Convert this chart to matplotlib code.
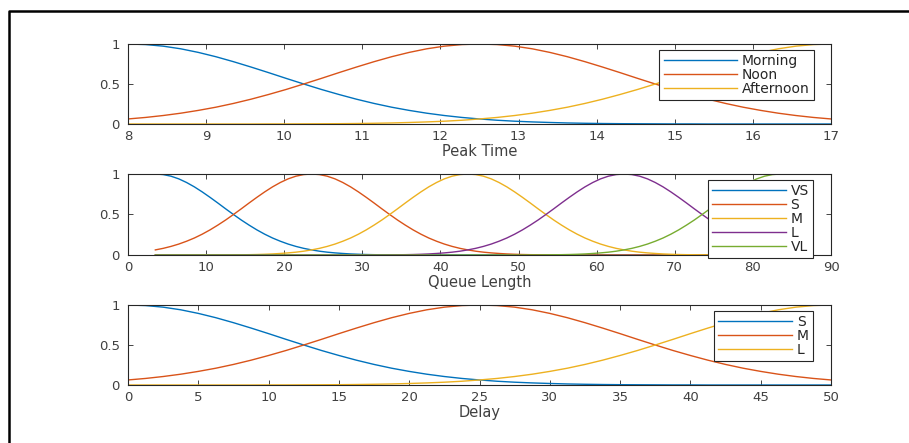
import matplotlib
matplotlib.use("Agg")
import matplotlib.pyplot as plt
from matplotlib.lines import Line2D


# ---- Peak Time ----
peak_x = [8.0, 8.225, 8.45, 8.675, 8.9, 9.125, 9.35, 9.575, 9.8, 10.025,
          10.25, 10.475, 10.7, 10.925, 11.15, 11.375, 11.6, 11.825, 12.05, 12.275,
          12.5, 12.725, 12.95, 13.175, 13.4, 13.625, 13.85, 14.075, 14.3, 14.525,
          14.75, 14.975, 15.2, 15.425, 15.65, 15.875, 16.1, 16.325, 16.55, 16.775,
          17.0]
morning = [1.0, 0.993, 0.973, 0.940, 0.895, 0.841, 0.779, 0.712, 0.642, 0.570,
           0.5, 0.432, 0.369, 0.310, 0.257, 0.210, 0.170, 0.135, 0.106, 0.082,
           0.063, 0.047, 0.035, 0.026, 0.019, 0.013, 0.009, 0.006, 0.004, 0.003,
           0.002, 0.001, 0.001, 0.0, 0.0, 0.0, 0.0, 0.0, 0.0, 0.0,
           0.0]
noon = [0.063, 0.082, 0.106, 0.135, 0.170, 0.210, 0.257, 0.310, 0.369, 0.432,
        0.5, 0.570, 0.642, 0.712, 0.779, 0.841, 0.895, 0.940, 0.973, 0.993,
        1.0, 0.993, 0.973, 0.940, 0.895, 0.841, 0.779, 0.712, 0.642, 0.570,
        0.5, 0.432, 0.369, 0.310, 0.257, 0.210, 0.170, 0.135, 0.106, 0.082,
        0.063]
afternoon = [0.0, 0.0, 0.0, 0.0, 0.0, 0.0, 0.0, 0.0, 0.001, 0.001,
             0.002, 0.003, 0.004, 0.006, 0.009, 0.013, 0.019, 0.026, 0.035, 0.047,
             0.063, 0.082, 0.106, 0.135, 0.170, 0.210, 0.257, 0.310, 0.369, 0.432,
             0.5, 0.570, 0.642, 0.712, 0.779, 0.841, 0.895, 0.940, 0.973, 0.993,
             1.0]

# ---- Queue Length ----
queue_x = [3.5, 4.5, 5.5, 6.5, 7.5, 8.5, 9.5, 10.5, 11.5, 12.5,
           13.5, 14.5, 15.5, 16.5, 17.5, 18.5, 19.5, 20.5, 21.5, 22.5,
           23.5, 24.5, 25.5, 26.5, 27.5, 28.5, 29.5, 30.5, 31.5, 32.5,
           33.5, 34.5, 35.5, 36.5, 37.5, 38.5, 39.5, 40.5, 41.5, 42.5,
           43.5, 44.5, 45.5, 46.5, 47.5, 48.5, 49.5, 50.5, 51.5, 52.5,
           53.5, 54.5, 55.5, 56.5, 57.5, 58.5, 59.5, 60.5, 61.5, 62.5,
           63.5, 64.5, 65.5, 66.5, 67.5, 68.5, 69.5, 70.5, 71.5, 72.5,
           73.5, 74.5, 75.5, 76.5, 77.5, 78.5, 79.5, 80.5, 81.5, 82.5,
           83.5]
q_vs = [1.0, 0.993, 0.973, 0.940, 0.895, 0.841, 0.779, 0.712, 0.642, 0.570,
        0.5, 0.432, 0.369, 0.310, 0.257, 0.210, 0.170, 0.135, 0.106, 0.082,
        0.063, 0.047, 0.035, 0.026, 0.019, 0.013, 0.009, 0.006, 0.004, 0.003,
        0.002, 0.001, 0.001, 0.0, 0.0, 0.0, 0.0, 0.0, 0.0, 0.0,
        0.0, 0.0, 0.0, 0.0, 0.0, 0.0, 0.0, 0.0, 0.0, 0.0,
        0.0, 0.0, 0.0, 0.0, 0.0, 0.0, 0.0, 0.0, 0.0, 0.0,
        0.0, 0.0, 0.0, 0.0, 0.0, 0.0, 0.0, 0.0, 0.0, 0.0,
        0.0, 0.0, 0.0, 0.0, 0.0, 0.0, 0.0, 0.0, 0.0, 0.0,
        0.0]
q_s = [0.063, 0.082, 0.106, 0.135, 0.170, 0.210, 0.257, 0.310, 0.369, 0.432,
       0.5, 0.570, 0.642, 0.712, 0.779, 0.841, 0.895, 0.940, 0.973, 0.993,
       1.0, 0.993, 0.973, 0.940, 0.895, 0.841, 0.779, 0.712, 0.642, 0.570,
       0.5, 0.432, 0.369, 0.310, 0.257, 0.210, 0.170, 0.135, 0.106, 0.082,
       0.063, 0.047, 0.035, 0.026, 0.019, 0.013, 0.009, 0.006, 0.004, 0.003,
       0.002, 0.001, 0.001, 0.0, 0.0, 0.0, 0.0, 0.0, 0.0, 0.0,
       0.0, 0.0, 0.0, 0.0, 0.0, 0.0, 0.0, 0.0, 0.0, 0.0,
       0.0, 0.0, 0.0, 0.0, 0.0, 0.0, 0.0, 0.0, 0.0, 0.0,
       0.0]
q_m = [0.0, 0.0, 0.0, 0.0, 0.0, 0.0, 0.0, 0.0, 0.001, 0.001,
       0.002, 0.003, 0.004, 0.006, 0.009, 0.013, 0.019, 0.026, 0.035, 0.047,
       0.063, 0.082, 0.106, 0.135, 0.170, 0.210, 0.257, 0.310, 0.369, 0.432,
       0.5, 0.570, 0.642, 0.712, 0.779, 0.841, 0.895, 0.940, 0.973, 0.993,
       1.0, 0.993, 0.973, 0.940, 0.895, 0.841, 0.779, 0.712, 0.642, 0.570,
       0.5, 0.432, 0.369, 0.310, 0.257, 0.210, 0.170, 0.135, 0.106, 0.082,
       0.063, 0.047, 0.035, 0.026, 0.019, 0.013, 0.009, 0.006, 0.004, 0.003,
       0.002, 0.001, 0.001, 0.0, 0.0, 0.0, 0.0, 0.0, 0.0, 0.0,
       0.0]
q_l = [0.0, 0.0, 0.0, 0.0, 0.0, 0.0, 0.0, 0.0, 0.0, 0.0,
       0.0, 0.0, 0.0, 0.0, 0.0, 0.0, 0.0, 0.0, 0.0, 0.0,
       0.0, 0.0, 0.0, 0.0, 0.0, 0.0, 0.0, 0.0, 0.001, 0.001,
       0.002, 0.003, 0.004, 0.006, 0.009, 0.013, 0.019, 0.026, 0.035, 0.047,
       0.063, 0.082, 0.106, 0.135, 0.170, 0.210, 0.257, 0.310, 0.369, 0.432,
       0.5, 0.570, 0.642, 0.712, 0.779, 0.841, 0.895, 0.940, 0.973, 0.993,
       1.0, 0.993, 0.973, 0.940, 0.895, 0.841, 0.779, 0.712, 0.642, 0.570,
       0.5, 0.432, 0.369, 0.310, 0.257, 0.210, 0.170, 0.135, 0.106, 0.082,
       0.063]
q_vl = [0.0, 0.0, 0.0, 0.0, 0.0, 0.0, 0.0, 0.0, 0.0, 0.0,
        0.0, 0.0, 0.0, 0.0, 0.0, 0.0, 0.0, 0.0, 0.0, 0.0,
        0.0, 0.0, 0.0, 0.0, 0.0, 0.0, 0.0, 0.0, 0.0, 0.0,
        0.0, 0.0, 0.0, 0.0, 0.0, 0.0, 0.0, 0.0, 0.0, 0.0,
        0.0, 0.0, 0.0, 0.0, 0.0, 0.0, 0.0, 0.0, 0.001, 0.001,
        0.002, 0.003, 0.004, 0.006, 0.009, 0.013, 0.019, 0.026, 0.035, 0.047,
        0.063, 0.082, 0.106, 0.135, 0.170, 0.210, 0.257, 0.310, 0.369, 0.432,
        0.5, 0.570, 0.642, 0.712, 0.779, 0.841, 0.895, 0.940, 0.973, 0.993,
        1.0]

# ---- Delay ----
delay_x = [0.0, 1.25, 2.5, 3.75, 5.0, 6.25, 7.5, 8.75, 10.0, 11.25,
           12.5, 13.75, 15.0, 16.25, 17.5, 18.75, 20.0, 21.25, 22.5, 23.75,
           25.0, 26.25, 27.5, 28.75, 30.0, 31.25, 32.5, 33.75, 35.0, 36.25,
           37.5, 38.75, 40.0, 41.25, 42.5, 43.75, 45.0, 46.25, 47.5, 48.75,
           50.0]
d_s = [1.0, 0.993, 0.973, 0.940, 0.895, 0.841, 0.779, 0.712, 0.642, 0.570,
       0.5, 0.432, 0.369, 0.310, 0.257, 0.210, 0.170, 0.135, 0.106, 0.082,
       0.063, 0.047, 0.035, 0.026, 0.019, 0.013, 0.009, 0.006, 0.004, 0.003,
       0.002, 0.001, 0.001, 0.0, 0.0, 0.0, 0.0, 0.0, 0.0, 0.0,
       0.0]
d_m = [0.063, 0.082, 0.106, 0.135, 0.170, 0.210, 0.257, 0.310, 0.369, 0.432,
       0.5, 0.570, 0.642, 0.712, 0.779, 0.841, 0.895, 0.940, 0.973, 0.993,
       1.0, 0.993, 0.973, 0.940, 0.895, 0.841, 0.779, 0.712, 0.642, 0.570,
       0.5, 0.432, 0.369, 0.310, 0.257, 0.210, 0.170, 0.135, 0.106, 0.082,
       0.063]
d_l = [0.0, 0.0, 0.0, 0.0, 0.0, 0.0, 0.0, 0.0, 0.001, 0.001,
       0.002, 0.003, 0.004, 0.006, 0.009, 0.013, 0.019, 0.026, 0.035, 0.047,
       0.063, 0.082, 0.106, 0.135, 0.170, 0.210, 0.257, 0.310, 0.369, 0.432,
       0.5, 0.570, 0.642, 0.712, 0.779, 0.841, 0.895, 0.940, 0.973, 0.993,
       1.0]

COLORS = ["#0072BD", "#D95319", "#EDB120", "#7E2F8E", "#77AC30"]
AX_GRAY = "#262626"
TXT_GRAY = "#404040"

W, H = 909, 443
plt.rcParams["font.family"] = "DejaVu Sans"

fig = plt.figure(figsize=(W / 100, H / 100), dpi=100)


def px_axes(left, top, right, bottom):
    return fig.add_axes([left / W, 1 - bottom / H, (right - left) / W, (bottom - top) / H])


def style_axes(ax, xlim, xticks, xlabel):
    ax.set_xlim(*xlim)
    ax.set_ylim(0, 1)
    ax.set_xticks(xticks)
    ax.set_xticklabels([str(t) for t in xticks])
    ax.set_yticks([0, 0.5, 1])
    ax.set_yticklabels(["0", "0.5", "1"])
    ax.tick_params(direction="in", length=3.5, width=0.6, top=True, right=True,
                   colors=AX_GRAY, labelcolor=TXT_GRAY, labelsize=9.5)
    ax.tick_params(axis="x", pad=4)
    ax.tick_params(axis="y", pad=6)
    for sp in ax.spines.values():
        sp.set_color(AX_GRAY)
        sp.set_linewidth(0.8)
    ax.set_xlabel(xlabel, fontsize=10.5, color=TXT_GRAY, labelpad=1)


def add_legend(ax, right, top):
    leg = ax.legend(loc="upper right", bbox_to_anchor=(right / W, 1 - top / H),
                    bbox_transform=fig.transFigure, borderaxespad=0,
                    fontsize=10, handlelength=5.3, handletextpad=0.35,
                    labelspacing=0.0, borderpad=0.3, fancybox=False,
                    framealpha=1, edgecolor=AX_GRAY)
    leg.get_frame().set_linewidth(0.8)
    for t in leg.get_texts():
        t.set_color(AX_GRAY)
    return leg


# Peak Time
ax1 = px_axes(128, 44, 831, 124)
ax1.plot(peak_x, morning, color=COLORS[0], lw=1, label="Morning")
ax1.plot(peak_x, noon, color=COLORS[1], lw=1, label="Noon")
ax1.plot(peak_x, afternoon, color=COLORS[2], lw=1, label="Afternoon")
style_axes(ax1, (8, 17), list(range(8, 18)), "Peak Time")
add_legend(ax1, 814, 50)

# Queue Length
ax2 = px_axes(128, 174, 831, 255)
ax2.plot(queue_x, q_vs, color=COLORS[0], lw=1, label="VS")
ax2.plot(queue_x, q_s, color=COLORS[1], lw=1, label="S")
ax2.plot(queue_x, q_m, color=COLORS[2], lw=1, label="M")
ax2.plot(queue_x, q_l, color=COLORS[3], lw=1, label="L")
ax2.plot(queue_x, q_vl, color=COLORS[4], lw=1, label="VL")
style_axes(ax2, (0, 90), list(range(0, 91, 10)), "Queue Length")
add_legend(ax2, 813, 180)

# Delay
ax3 = px_axes(128, 305, 831, 385)
ax3.plot(delay_x, d_s, color=COLORS[0], lw=1, label="S")
ax3.plot(delay_x, d_m, color=COLORS[1], lw=1, label="M")
ax3.plot(delay_x, d_l, color=COLORS[2], lw=1, label="L")
style_axes(ax3, (0, 50), list(range(0, 51, 5)), "Delay")
add_legend(ax3, 813, 311)

# outer frame (only top and left edges show in the screenshot)
fig.add_artist(Line2D([8.5 / W, 8.5 / W, 1.0], [0.0, 1 - 10.5 / H, 1 - 10.5 / H],
                      transform=fig.transFigure, color="black", lw=1.8))

fig.savefig("out.png", dpi=100)
